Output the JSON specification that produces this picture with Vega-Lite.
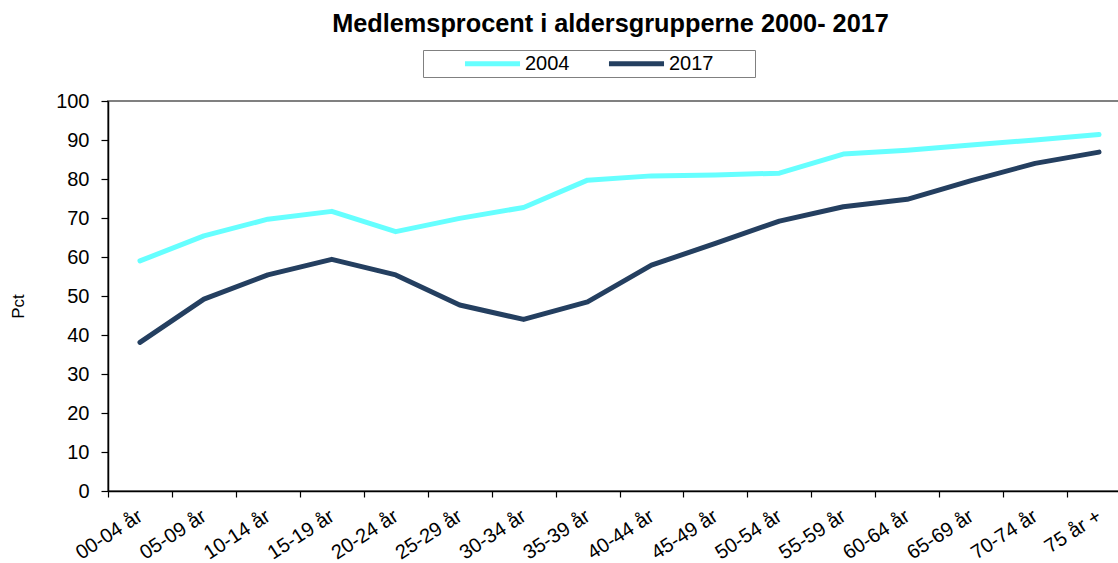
{
  "$schema": "https://vega.github.io/schema/vega-lite/v6.json",
  "autosize": {"type": "none"},
  "width": 1023,
  "height": 390,
  "padding": {"left": 108, "top": 101, "right": -13, "bottom": 72},
  "background": "white",
  "config": {
    "font": "Liberation Sans",
    "view": {"stroke": "#808080", "strokeWidth": 2}
  },
  "title": {
    "text": "Medlemsprocent i aldersgrupperne 2000- 2017",
    "fontSize": 25.3,
    "fontWeight": "bold",
    "font": "Liberation Sans",
    "color": "#000000",
    "anchor": "middle",
    "dx": -9,
    "offset": 12
  },
  "data": {
    "values": [
      {"age": "00-04 år", "year": "2004", "pct": 59.0},
      {"age": "05-09 år", "year": "2004", "pct": 65.4},
      {"age": "10-14 år", "year": "2004", "pct": 69.7},
      {"age": "15-19 år", "year": "2004", "pct": 71.7},
      {"age": "20-24 år", "year": "2004", "pct": 66.5},
      {"age": "25-29 år", "year": "2004", "pct": 69.9},
      {"age": "30-34 år", "year": "2004", "pct": 72.7},
      {"age": "35-39 år", "year": "2004", "pct": 79.7},
      {"age": "40-44 år", "year": "2004", "pct": 80.8},
      {"age": "45-49 år", "year": "2004", "pct": 81.0},
      {"age": "50-54 år", "year": "2004", "pct": 81.5},
      {"age": "55-59 år", "year": "2004", "pct": 86.4},
      {"age": "60-64 år", "year": "2004", "pct": 87.4},
      {"age": "65-69 år", "year": "2004", "pct": 88.7},
      {"age": "70-74 år", "year": "2004", "pct": 90.0},
      {"age": "75 år +", "year": "2004", "pct": 91.4},
      {"age": "00-04 år", "year": "2017", "pct": 38.1},
      {"age": "05-09 år", "year": "2017", "pct": 49.2},
      {"age": "10-14 år", "year": "2017", "pct": 55.4},
      {"age": "15-19 år", "year": "2017", "pct": 59.4},
      {"age": "20-24 år", "year": "2017", "pct": 55.4},
      {"age": "25-29 år", "year": "2017", "pct": 47.7},
      {"age": "30-34 år", "year": "2017", "pct": 44.0},
      {"age": "35-39 år", "year": "2017", "pct": 48.5},
      {"age": "40-44 år", "year": "2017", "pct": 57.9},
      {"age": "45-49 år", "year": "2017", "pct": 63.5},
      {"age": "50-54 år", "year": "2017", "pct": 69.2},
      {"age": "55-59 år", "year": "2017", "pct": 72.9},
      {"age": "60-64 år", "year": "2017", "pct": 74.8},
      {"age": "65-69 år", "year": "2017", "pct": 79.6},
      {"age": "70-74 år", "year": "2017", "pct": 84.0},
      {"age": "75 år +", "year": "2017", "pct": 86.9}
    ]
  },
  "mark": {"type": "line", "strokeWidth": 5, "strokeCap": "round", "strokeJoin": "round"},
  "encoding": {
    "x": {
      "field": "age",
      "type": "nominal",
      "sort": null,
      "scale": {"paddingInner": 0, "paddingOuter": 0},
      "axis": {
        "title": null,
        "tickBand": "extent",
        "labelAngle": -33,
        "labelAlign": "right",
        "labelBaseline": "middle",
        "labelFontSize": 20,
        "labelColor": "#000000",
        "labelPadding": 17,
        "domainColor": "#000000",
        "domainWidth": 1.5,
        "tickColor": "#000000",
        "tickWidth": 1.2,
        "tickSize": 6,
        "labelOverlap": false
      }
    },
    "y": {
      "field": "pct",
      "type": "quantitative",
      "scale": {"domain": [0, 100], "nice": false, "zero": true},
      "axis": {
        "title": "Pct",
        "titleFontSize": 17,
        "titleFontWeight": "normal",
        "titleColor": "#000000",
        "titleX": -90,
        "titleY": 205,
        "titleAlign": "center",
        "titleBaseline": "middle",
        "titleAngle": -90,
        "values": [0, 10, 20, 30, 40, 50, 60, 70, 80, 90, 100],
        "grid": false,
        "labelFontSize": 20,
        "labelColor": "#000000",
        "labelPadding": 12,
        "domainColor": "#000000",
        "domainWidth": 1.5,
        "tickColor": "#000000",
        "tickWidth": 1.2,
        "tickSize": 7
      }
    },
    "color": {
      "field": "year",
      "type": "nominal",
      "scale": {"domain": ["2004", "2017"], "range": ["#66FFFF", "#243F60"]},
      "legend": {
        "title": "\u00a0",
        "titleOrient": "right",
        "titleFontSize": 1,
        "titlePadding": 39,
        "orient": "none",
        "direction": "horizontal",
        "legendX": 315,
        "legendY": -51,
        "symbolType": "M-3.44,0H3.44",
        "symbolSize": 256,
        "symbolStrokeWidth": 5,
        "symbolOffset": 56,
        "labelFontSize": 20,
        "labelColor": "#000000",
        "labelOffset": 22,
        "columnPadding": 0,
        "strokeColor": "#808080",
        "padding": 3,
        "fillColor": "white"
      }
    }
  }
}
